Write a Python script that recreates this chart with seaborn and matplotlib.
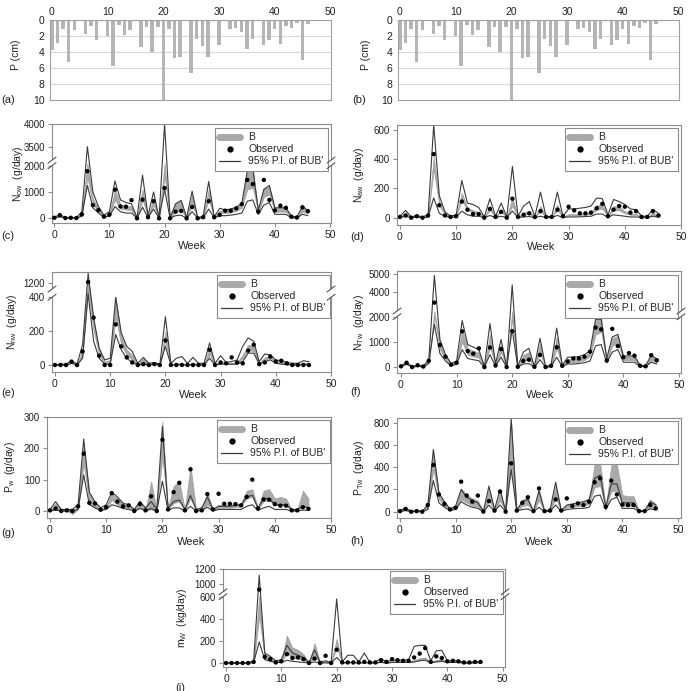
import numpy as np
import matplotlib
matplotlib.use('Agg')
import matplotlib.pyplot as plt
import seaborn as sns
from matplotlib.lines import Line2D
from matplotlib.patches import Rectangle

# weekly data
weeks = list(range(47))

precip = [3.8, 2.9, 1.1, 5.2, 1.25, 0.1, 1.8, 0.75, 2.5, 0.1, 1.95, 5.7, 0.6, 1.9, 1.3, 0.1,
          3.4, 0.85, 4.0, 0.9, 10.0, 1.15, 4.7, 4.6, 0.15, 6.6, 2.4, 3.25, 4.6, 0.0, 3.1, 0.1,
          1.1, 1.0, 1.55, 3.6, 2.4, 0.1, 3.1, 2.5, 1.15, 3.05, 0.75, 0.95, 0.4, 5.0, 0.5]

# (c) N_ow
c_obs = [20, 120, 10, 20, 10, 150, 1790, 500, 310, 60, 140, 1090, 450, 440, 690, 0, 710, 40, 650, 0,
         1150, 0, 250, 280, 0, 430, 0, 40, 650, 40, 130, 290, 290, 380, 540, 1460, 1300, 250, 1460, 700,
         300, 480, 400, 60, 30, 420, 270]
c_pi_hi = [30, 150, 20, 40, 20, 250, 3500, 1000, 450, 120, 250, 1420, 700, 600, 550, 20, 1640, 100, 1000, 20,
           4000, 20, 550, 680, 30, 1030, 20, 80, 1400, 50, 380, 320, 350, 420, 560, 1800, 1900, 300, 1100, 1250,
           400, 400, 400, 80, 50, 450, 300]
c_pi_lo = [10, 60, 5, 10, 5, 80, 1250, 400, 200, 40, 80, 450, 250, 200, 200, 5, 420, 30, 350, 5,
           1100, 5, 100, 120, 5, 250, 5, 20, 350, 20, 100, 100, 120, 150, 200, 650, 700, 150, 500, 600,
           150, 150, 150, 20, 15, 150, 100]
c_b_lo = [15, 90, 8, 15, 8, 120, 1550, 520, 260, 60, 120, 700, 360, 330, 300, 8, 700, 60, 500, 8,
          1600, 8, 250, 300, 8, 500, 8, 40, 700, 30, 200, 200, 220, 280, 400, 1100, 1150, 220, 800, 900,
          250, 250, 250, 40, 25, 250, 180]
c_b_hi = [25, 130, 15, 30, 15, 200, 2500, 750, 380, 90, 180, 1100, 520, 470, 450, 15, 1100, 90, 750, 15,
          2500, 15, 600, 650, 15, 900, 15, 60, 1100, 45, 300, 300, 320, 400, 550, 1800, 1900, 280, 1150, 1200,
          380, 400, 380, 60, 40, 420, 300]

# (d) N_aw
d_obs = [5, 15, 0, 10, 0, 15, 435, 85, 15, 5, 10, 110, 55, 25, 25, 0, 60, 5, 40, 0, 130, 5, 20, 30, 5,
         45, 5, 5, 55, 10, 75, 50, 30, 30, 35, 65, 95, 10, 55, 80, 75, 35, 45, 5, 5, 45, 15]
d_pi_hi = [10, 50, 5, 15, 5, 20, 635, 150, 40, 10, 20, 255, 100, 90, 70, 5, 130, 10, 100, 5, 350, 10, 80,
           110, 10, 175, 5, 10, 175, 10, 60, 60, 65, 70, 80, 135, 130, 20, 125, 110, 90, 60, 55, 10, 10, 55, 30]
d_pi_lo = [2, 10, 1, 5, 1, 5, 135, 30, 10, 2, 5, 45, 20, 10, 10, 1, 15, 2, 10, 1, 45, 2, 5, 8, 1, 10, 1,
           2, 15, 3, 5, 5, 6, 8, 10, 25, 25, 3, 20, 15, 10, 5, 5, 1, 1, 10, 3]
d_b_lo = [4, 25, 2, 8, 2, 10, 330, 80, 20, 5, 10, 120, 50, 35, 25, 2, 50, 5, 40, 2, 80, 4, 20, 25, 3, 45,
          2, 5, 50, 5, 15, 15, 18, 20, 25, 55, 60, 8, 50, 50, 30, 20, 18, 3, 3, 20, 10]
d_b_hi = [6, 35, 3, 10, 3, 14, 420, 110, 28, 7, 14, 170, 70, 50, 38, 3, 80, 7, 60, 3, 140, 6, 35, 45, 5,
          80, 3, 7, 90, 7, 25, 25, 28, 32, 40, 85, 90, 12, 80, 75, 45, 30, 28, 5, 5, 35, 16]

# (e) N_nw
e_obs = [0, 0, 0, 20, 0, 80, 1210, 280, 55, 0, 0, 240, 110, 45, 15, 0, 5, 0, 5, 0, 145, 0, 0, 0, 0, 0,
         0, 0, 90, 0, 15, 10, 45, 15, 10, 85, 120, 5, 15, 50, 20, 25, 10, 0, 0, 0, 0]
e_pi_hi = [0, 5, 5, 25, 5, 120, 1350, 280, 100, 30, 40, 400, 190, 110, 80, 10, 45, 10, 15, 5, 285, 10,
           40, 50, 10, 45, 10, 10, 130, 10, 55, 15, 20, 30, 110, 160, 140, 20, 65, 60, 30, 25, 15, 10, 10, 25, 20]
e_pi_lo = [0, 0, 0, 10, 0, 40, 700, 140, 40, 5, 5, 180, 90, 40, 15, 0, 5, 0, 5, 0, 110, 0, 2, 2, 0, 2,
           0, 0, 40, 0, 5, 5, 5, 5, 20, 70, 70, 5, 20, 30, 10, 5, 2, 0, 0, 2, 0]
e_b_lo = [0, 1, 1, 15, 1, 60, 1000, 200, 60, 10, 15, 280, 120, 60, 30, 2, 15, 2, 5, 1, 140, 2, 5, 5, 2,
          5, 2, 2, 60, 2, 15, 8, 8, 10, 40, 90, 80, 8, 30, 40, 15, 10, 5, 2, 2, 8, 5]
e_b_hi = [0, 3, 3, 20, 3, 90, 1250, 260, 90, 20, 30, 400, 170, 90, 60, 5, 40, 5, 10, 3, 200, 5, 10, 10,
          5, 12, 5, 5, 100, 5, 25, 12, 12, 18, 60, 120, 110, 12, 45, 55, 22, 18, 10, 5, 5, 15, 10]

# (f) N_Tw
f_obs = [40, 180, 10, 80, 30, 260, 3450, 880, 420, 100, 180, 1420, 640, 540, 750, 10, 780, 70, 720, 10,
         1430, 20, 250, 300, 20, 490, 10, 60, 790, 60, 230, 350, 350, 420, 620, 1570, 1500, 270, 1520, 840,
         400, 560, 460, 60, 40, 480, 280]
f_pi_hi = [50, 200, 20, 90, 40, 300, 4900, 1100, 500, 150, 250, 1850, 900, 800, 700, 30, 1730, 130, 1100, 30,
           4400, 30, 600, 750, 30, 1150, 20, 100, 1550, 80, 400, 400, 420, 500, 650, 1900, 1900, 350, 1200, 1300,
           450, 450, 450, 80, 60, 480, 330]
f_pi_lo = [20, 120, 5, 40, 15, 150, 1700, 550, 250, 60, 120, 700, 350, 300, 260, 5, 500, 40, 400, 5,
           1500, 5, 130, 150, 5, 300, 5, 30, 400, 30, 130, 130, 150, 180, 250, 850, 900, 180, 600, 700,
           200, 200, 200, 30, 20, 200, 130]
f_b_lo = [30, 150, 10, 60, 25, 220, 2100, 700, 330, 90, 160, 1000, 500, 420, 380, 10, 800, 70, 600, 10,
          1900, 10, 250, 300, 10, 550, 10, 50, 750, 40, 200, 200, 220, 280, 450, 1300, 1400, 230, 850, 950,
          280, 280, 280, 50, 30, 280, 200]
f_b_hi = [45, 190, 18, 85, 35, 280, 3000, 950, 450, 130, 230, 1500, 750, 650, 580, 20, 1300, 110, 900, 20,
          3000, 20, 500, 600, 20, 950, 18, 80, 1200, 70, 330, 330, 360, 450, 600, 1900, 1950, 320, 1150, 1250,
          420, 430, 420, 70, 50, 450, 320]

# (g) P_w
g_obs = [2, 8, 0, 2, 0, 15, 183, 26, 24, 4, 12, 57, 30, 15, 18, 0, 22, 2, 47, 0, 227, 5, 60, 90, 2, 133,
         0, 2, 54, 5, 55, 23, 23, 22, 18, 45, 100, 8, 37, 36, 22, 17, 17, 2, 2, 12, 7]
g_pi_hi = [5, 30, 5, 5, 5, 20, 230, 60, 30, 10, 20, 60, 45, 25, 20, 5, 30, 10, 30, 5, 270, 10, 30, 35, 5,
           50, 5, 10, 45, 5, 15, 15, 15, 18, 20, 45, 50, 10, 40, 40, 20, 20, 20, 5, 5, 15, 10]
g_pi_lo = [0, 3, 0, 0, 0, 5, 115, 20, 10, 2, 5, 20, 15, 8, 5, 0, 8, 2, 8, 0, 95, 2, 10, 10, 0, 15, 0, 2,
           12, 0, 5, 5, 5, 5, 5, 15, 20, 2, 10, 15, 5, 5, 5, 0, 0, 3, 2]
g_b_lo = [0, 10, 0, 0, -10, 5, 150, 25, 10, 3, 8, 35, 20, 12, 10, 0, 10, 0, 5, 0, 170, 5, 25, 30, 2, 40,
          2, 2, 20, 2, 10, 10, 10, 12, 15, 40, 45, 5, 30, 35, 18, 18, 18, 2, 2, 15, 10]
g_b_hi = [3, 25, 3, 3, 2, 15, 215, 55, 25, 8, 15, 55, 40, 22, 18, 3, 35, 5, 95, 3, 285, 10, 80, 95, 5,
          145, 5, 8, 60, 5, 20, 20, 20, 22, 25, 65, 70, 10, 65, 70, 40, 45, 40, 5, 5, 65, 40]

# (h) P_Tw
h_obs = [5, 25, 0, 5, 0, 60, 420, 155, 70, 20, 35, 270, 145, 90, 145, 0, 95, 10, 180, 0, 435, 10, 80,
         130, 5, 210, 5, 10, 110, 10, 120, 50, 75, 60, 90, 265, 300, 45, 280, 155, 65, 60, 60, 5, 5, 60, 30]
h_pi_hi = [10, 35, 5, 10, 5, 60, 560, 170, 90, 25, 50, 200, 130, 100, 80, 5, 230, 20, 200, 5, 840, 15,
           90, 110, 5, 190, 5, 20, 265, 10, 60, 70, 80, 90, 110, 300, 330, 40, 250, 250, 80, 80, 80, 10, 10, 90, 60]
h_pi_lo = [2, 10, 0, 2, 0, 20, 280, 80, 40, 10, 20, 90, 60, 40, 30, 0, 60, 5, 60, 0, 380, 5, 20, 25, 0,
           40, 0, 5, 60, 2, 20, 25, 30, 30, 40, 140, 150, 20, 110, 130, 30, 30, 30, 2, 2, 25, 15]
h_b_lo = [4, 15, 2, 4, 2, 35, 380, 110, 55, 15, 30, 110, 80, 55, 45, 2, 100, 10, 100, 2, 420, 8, 50, 60,
          2, 100, 2, 8, 120, 4, 40, 45, 50, 55, 70, 220, 230, 30, 180, 190, 50, 50, 50, 4, 4, 40, 25]
h_b_hi = [8, 30, 4, 8, 4, 55, 540, 160, 85, 22, 45, 210, 150, 120, 100, 4, 210, 18, 180, 4, 800, 14, 110,
          130, 4, 200, 4, 16, 240, 8, 60, 70, 80, 90, 110, 430, 440, 40, 420, 430, 150, 140, 140, 8, 8, 110, 70]

# (i) m_w
i_obs = [0, 0, 0, 0, 0, 10, 930, 55, 35, 5, 15, 80, 45, 50, 35, 0, 40, 0, 65, 0, 120, 5, 5, 5, 5, 10, 5,
         5, 25, 10, 35, 25, 20, 20, 50, 85, 135, 10, 60, 45, 15, 20, 15, 5, 5, 10, 10]
i_pi_hi = [2, 2, 2, 2, 2, 20, 1120, 90, 60, 20, 30, 160, 90, 70, 50, 5, 120, 10, 20, 5, 580, 10, 70, 70,
           10, 90, 5, 10, 40, 10, 25, 25, 25, 30, 150, 160, 160, 20, 110, 115, 20, 20, 20, 5, 5, 15, 10]
i_pi_lo = [0, 0, 0, 0, 0, 5, 190, 30, 15, 5, 5, 25, 15, 10, 5, 0, 10, 0, 2, 0, 50, 2, 5, 5, 0, 5, 0, 0,
           5, 0, 5, 5, 5, 5, 10, 20, 25, 2, 10, 15, 5, 5, 5, 0, 0, 2, 2]
i_b_lo = [0, 0, 0, 0, 0, 5, 420, 40, 20, 5, 8, 90, 50, 40, 25, 0, 50, 2, 5, 0, 140, 2, 5, 5, 2, 5, 2, 2,
          10, 2, 8, 8, 8, 10, 15, 30, 35, 5, 15, 20, 8, 8, 8, 2, 2, 5, 5]
i_b_hi = [1, 1, 1, 1, 1, 15, 650, 80, 50, 12, 20, 250, 140, 120, 80, 3, 180, 6, 15, 3, 220, 6, 12, 12, 5,
          15, 5, 5, 20, 5, 15, 15, 15, 18, 25, 45, 50, 10, 30, 35, 15, 15, 15, 4, 4, 10, 8]

sns.set_style('white')
plt.rcParams['font.family'] = ['Liberation Sans', 'DejaVu Sans']
plt.rcParams['mathtext.default'] = 'regular'

W = 691.0
fig = plt.figure(figsize=(6.91, 6.91), dpi=100)

FRAME = '#8c8c8c'
TXT = '#222222'
BAND = '#a9a9a9'
LINE = '#3a3a3a'
FS = 7


def make_axes(frame):
    l, t, r, b = frame
    return fig.add_axes([l / W, 1 - b / W, (r - l) / W, (b - t) / W])


def piecewise(kd, kpx):
    kd = np.asarray(kd, float)
    ku = -np.asarray(kpx, float)
    s0 = (ku[1] - ku[0]) / (kd[1] - kd[0])
    s1 = (ku[-1] - ku[-2]) / (kd[-1] - kd[-2])
    xd = np.r_[kd[0] - 1e6, kd, kd[-1] + 1e6]
    xu = np.r_[ku[0] - 1e6 * s0, ku, ku[-1] + 1e6 * s1]
    return (lambda y: np.interp(y, xd, xu)), (lambda u: np.interp(u, xu, xd))


def fig_line(xs, ys, **kw):
    fig.add_artist(Line2D(np.array(xs) / W, 1 - np.array(ys) / W,
                          transform=fig.transFigure, **kw))


def break_mark(x, y_lo, y_hi):
    fig.add_artist(Rectangle(((x - 1.5) / W, 1 - y_lo / W), 3 / W, (y_lo - y_hi) / W,
                             transform=fig.transFigure, facecolor='white',
                             edgecolor='none', zorder=10))
    for yy in (y_lo, y_hi):
        fig_line([x - 4, x + 4], [yy + 3, yy - 3], color='#555555', lw=0.8, zorder=11)


# ---- precipitation panels (a), (b)
for frame, lab, ylab_x, lab_x in [((50, 20, 331, 100), '(a)', 16, 1),
                                  ((398, 20, 679, 100), '(b)', 366, 352)]:
    ax = make_axes(frame)
    sns.barplot(x=weeks, y=precip, color='#b5b5b5', saturation=1,
                width=0.62, errorbar=None, linewidth=0, ax=ax)
    ax.set_xlim(-0.35, 50.1)
    ax.set_ylim(10, 0)
    ax.set_yticks([0, 2, 4, 6, 8, 10])
    ax.set_yticklabels(['0', '2', '4', '6', '8', '10'])
    ax.set_xticks([0, 10, 20, 30, 40, 50])
    ax.set_xticklabels(['0', '10', '20', '30', '40', '50'])
    ax.xaxis.tick_top()
    for yv in [2, 4, 6, 8]:
        ax.axhline(yv, color='#cfcfcf', lw=0.6, zorder=0)
    for s in ax.spines.values():
        s.set_color('#a0a0a0')
        s.set_linewidth(0.8)
    ax.tick_params(axis='x', length=0, pad=2, labelsize=FS + 0.5, colors=TXT)
    ax.tick_params(axis='y', length=2, pad=2, labelsize=FS + 0.5, colors=TXT, color='#a0a0a0')
    ax.set_xlabel('')
    ax.set_ylabel('')
    fig.text(ylab_x / W, 1 - 55 / W, 'P (cm)', rotation=90, ha='center', va='center',
             fontsize=FS + 0.5, color=TXT)
    fig.text(lab_x / W, 1 - 100 / W, lab, ha='left', va='center', fontsize=8, color=TXT)

# ---- time series panels
panels = [
    dict(obs=c_obs, hi=c_pi_hi, lo=c_pi_lo, blo=c_b_lo, bhi=c_b_hi,
         frame=(52, 124, 331, 223), xk=(54.3, 330), kd=[0, 2000, 3200, 4000],
         kpx=[218.3, 165.7, 160.1, 124.3], ticks=[0, 1000, 2000, 3500, 4000],
         ylab='N$_{ow}$  (g/day)', ylx=18, lab='(c)', labxy=(1, 236), week_y=246,
         leg=(328, 128)),
    dict(obs=d_obs, hi=d_pi_hi, lo=d_pi_lo, blo=d_b_lo, bhi=d_b_hi,
         frame=(397, 125, 681, 225), xk=(400, 681.7), kd=[0, 600],
         kpx=[217.7, 130], ticks=[0, 200, 400, 600],
         ylab='N$_{aw}$  (g/day)', ylx=359, lab='(d)', labxy=(350, 237), week_y=247,
         leg=(678, 128)),
    dict(obs=e_obs, hi=e_pi_hi, lo=e_pi_lo, blo=e_b_lo, bhi=e_b_hi,
         frame=(52, 272, 331, 372), xk=(55, 331.7), kd=[0, 400, 1100, 1200],
         kpx=[365, 297.3, 289, 282.7], ticks=[0, 200, 400, 1200],
         ylab='N$_{nw}$  (g/day)', ylx=12, lab='(e)', labxy=(1, 393), week_y=395,
         leg=(330, 275)),
    dict(obs=f_obs, hi=f_pi_hi, lo=f_pi_lo, blo=f_b_lo, bhi=f_b_hi,
         frame=(397, 271, 681, 373), xk=(401, 679), kd=[0, 2000, 3000, 5000],
         kpx=[367.3, 316.7, 311, 273.7], ticks=[0, 1000, 2000, 4000, 5000],
         ylab='N$_{Tw}$  (g/day)', ylx=359, lab='(f)', labxy=(350, 392), week_y=395,
         leg=(678, 275)),
    dict(obs=g_obs, hi=g_pi_hi, lo=g_pi_lo, blo=g_b_lo, bhi=g_b_hi,
         frame=(47, 417, 331, 518), xk=(50, 331.7), kd=[0, 200],
         kpx=[511, 448.3], ticks=[0, 100, 200, 300],
         ylab='P$_{w}$  (g/day)', ylx=10, lab='(g)', labxy=(1, 533), week_y=542,
         leg=(330, 420)),
    dict(obs=h_obs, hi=h_pi_hi, lo=h_pi_lo, blo=h_b_lo, bhi=h_b_hi,
         frame=(397, 418, 681, 518), xk=(400, 678), kd=[0, 600],
         kpx=[511.7, 445], ticks=[0, 200, 400, 600, 800],
         ylab='P$_{Tw}$  (g/day)', ylx=359, lab='(h)', labxy=(350, 541), week_y=542,
         leg=(678, 421)),
    dict(obs=i_obs, hi=i_pi_hi, lo=i_pi_lo, blo=i_b_lo, bhi=i_b_hi,
         frame=(223, 569, 505, 667), xk=(226, 502.7), kd=[0, 600, 900, 1200],
         kpx=[663, 596.7, 591.8, 569.3], ticks=[0, 200, 400, 600, 1000, 1200],
         ylab='m$_{W}$  (kg/day)', ylx=182, lab='(i)', labxy=(175, 688), week_y=697,
         leg=(503, 571)),
]

handles = [Line2D([], [], color=BAND, lw=5),
           Line2D([], [], color='k', marker='o', ls='none', ms=3.5),
           Line2D([], [], color=LINE, lw=0.9)]
labels = ['B', 'Observed', "95% P.I. of BUB'"]

for p in panels:
    l, t, r, b = p['frame']
    ax = make_axes(p['frame'])
    ax.fill_between(weeks, p['blo'], p['bhi'], color=BAND, lw=0.4, edgecolor='#999999', zorder=1)
    sns.lineplot(x=weeks, y=p['hi'], ax=ax, color=LINE, lw=0.8, zorder=2)
    sns.lineplot(x=weeks, y=p['lo'], ax=ax, color=LINE, lw=0.8, zorder=2)
    sns.scatterplot(x=weeks, y=p['obs'], ax=ax, color='k', s=10, edgecolor='none', zorder=3)

    fwd, inv = piecewise(p['kd'], p['kpx'])
    ax.set_yscale('function', functions=(fwd, inv))
    ax.set_ylim(float(inv(-b)), float(inv(-t)))
    x0, x50 = p['xk']
    ppw = (x50 - x0) / 50.0
    ax.set_xlim((l - x0) / ppw, (r - x0) / ppw)
    ax.set_xticks([0, 10, 20, 30, 40, 50])
    ax.set_yticks(p['ticks'])
    ax.set_yticklabels([str(v) for v in p['ticks']])
    ax.minorticks_off()
    for s in ax.spines.values():
        s.set_color(FRAME)
        s.set_linewidth(0.8)
    ax.tick_params(length=3, width=0.8, pad=2, labelsize=FS + 0.5, colors=TXT, color=FRAME,
                   left=True, bottom=True)
    ax.tick_params(axis='y', labelsize=FS)
    ax.set_xlabel('')
    ax.set_ylabel('')

    leg = ax.legend(handles, labels, loc='upper right',
                    bbox_to_anchor=(p['leg'][0] / W, 1 - p['leg'][1] / W),
                    bbox_transform=fig.transFigure, borderaxespad=0, fontsize=7.5,
                    frameon=True, fancybox=False, framealpha=1, edgecolor=FRAME,
                    handlelength=2.0, handletextpad=0.8, labelspacing=0.2, borderpad=0.4)
    leg.get_frame().set_linewidth(0.8)

    if len(p['kd']) == 4:
        for xs in (l, r):
            break_mark(xs, p['kpx'][1], p['kpx'][2])

    fig.text(p['ylx'] / W, 1 - (t + b) / 2 / W, p['ylab'], rotation=90, ha='center',
             va='center', fontsize=FS + 0.5, color=TXT)
    fig.text((x0 + x50) / 2 / W, 1 - p['week_y'] / W, 'Week', ha='center', va='center',
             fontsize=8, color=TXT)
    fig.text(p['labxy'][0] / W, 1 - p['labxy'][1] / W, p['lab'], ha='left', va='center',
             fontsize=8, color=TXT)

fig.savefig('out.png', dpi=100, facecolor='white')
